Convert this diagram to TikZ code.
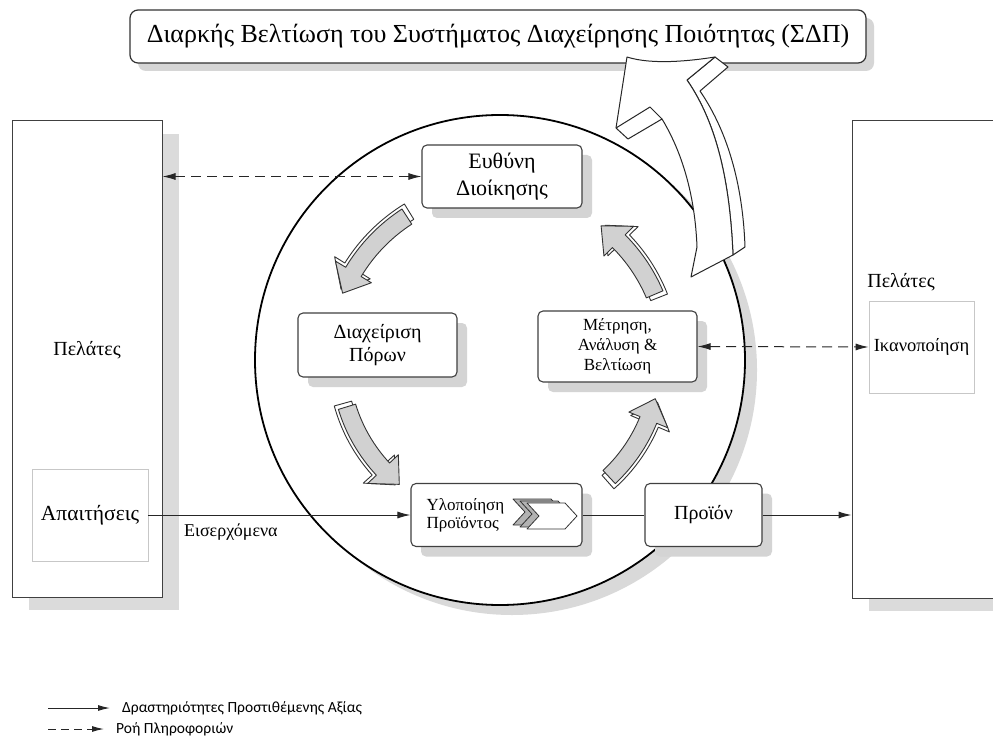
\documentclass[tikz,border=0pt]{standalone}
\usepackage{fontspec}
\setmainfont{Liberation Serif}
\newfontfamily\legendfont{Carlito}
\usetikzlibrary{arrows.meta,shadows}
\tikzset{
  procbox/.style={draw=black!75, line width=1.1pt, rounded corners=5pt, fill=white, align=center, inner sep=0pt,
    font=\fontsize{20}{23}\selectfont,
    drop shadow={shadow xshift=10pt, shadow yshift=-10pt, fill=black!17, opacity=1}},
  custbox/.style={draw=black!75, line width=1pt, fill=white, inner sep=0pt,
    drop shadow={shadow xshift=17pt, shadow yshift=-13pt, fill=black!14, opacity=1}},
  innerbox/.style={draw=black!22, line width=0.8pt, fill=white, inner sep=0pt, font=\fontsize{20}{23}\selectfont},
  lbl/.style={font=\fontsize{20}{23}\selectfont, inner sep=0pt},
  flow/.style={line width=1pt, draw=black!85},
  infoflow/.style={line width=1pt, draw=black!85, dash pattern=on 10pt off 6pt},
  tipA/.style={-{Latex[length=13pt,width=7pt]}},
  tipAA/.style={{Latex[length=13pt,width=7pt]}-{Latex[length=13pt,width=7pt]}},
  legtip/.style={-{Latex[length=12pt,width=6pt]}},
  cyc/.style={draw=black!80, line width=0.9pt, fill=black!18, line join=round},
  cycback/.style={draw=black!80, line width=0.9pt, fill=white, line join=round},
  bigarrow/.style={draw=black!85, line width=1pt, fill=white, line join=round},
  legtext/.style={anchor=west, inner sep=0pt, font=\legendfont\fontsize{15.5}{17}\selectfont},
}
% #1 tail angle, #2 tip angle, #3 radius, #4 style
\newcommand\cyclearc[4]{%
  \path[#4] ({#1}:{#3+9}) arc[start angle={#1}, end angle={#2-8}, radius={#3+9}]
    -- ({#2-8}:{#3+21}) -- ({#2}:{#3}) -- ({#2-8}:{#3-21}) -- ({#2-8}:{#3-9})
    arc[start angle={#2-8}, end angle={#1}, radius={#3-9}] -- cycle;}
\begin{document}
\begin{tikzpicture}[x=1pt,y=1pt]
\useasboundingbox (0,0) rectangle (993,-738);
\fill[white] (0,0) rectangle (993,-738);
\clip (0,0) rectangle (993,-738);

% title
\node[draw=black!80, line width=1.2pt, rounded corners=8pt, fill=white, minimum width=736, minimum height=53,
  inner sep=0pt, font=\fontsize{26}{29}\selectfont,
  drop shadow={shadow xshift=8pt, shadow yshift=-8pt, fill=black!16, opacity=1}]
  (title) at (498,-36.5) {Διαρκής Βελτίωση του Συστήματος Διαχείρησης Ποιότητας (ΣΔΠ)};

% circle
\coordinate (cc) at (500,-360);
\fill[black!15] ([shift={(12,-10)}]cc) circle[radius=245];
\draw[line width=1.8pt, fill=white] (cc) circle[radius=245];

% customer boxes
\node[custbox, minimum width=150, minimum height=476] (custL) at (87,-359) {};
\node[custbox, minimum width=158, minimum height=477] (custR) at (931,-359.5) {};
\node[lbl] (custLlbl) at (87,-350) {Πελάτες};
\node[lbl] (custRlbl) at (901,-282) {Πελάτες};
\node[innerbox, minimum width=116, minimum height=92, font=\fontsize{21.5}{24}\selectfont] (req) at (90,-515) {Απαιτήσεις};
\node[innerbox, minimum width=105, minimum height=92, font=\fontsize{18.5}{21}\selectfont] (sat) at (921.5,-347) {Ικανοποίηση};

% cycle arrows
\begin{scope}[shift={(cc)}]
  \cyclearc{121.5}{156}{174}{cycback}
  \cyclearc{123}{157}{171}{cyc}
  \cyclearc{195.5}{230}{163}{cycback}
  \cyclearc{197}{231}{160}{cyc}
  \cyclearc{311.5}{345}{163}{cycback}
  \cyclearc{313}{346}{160}{cyc}
  \cyclearc{21.5}{52}{171}{cycback}
  \cyclearc{23}{53}{168}{cyc}
\end{scope}

% process boxes
\node[procbox, minimum width=160, minimum height=63, font=\fontsize{22}{27}\selectfont] (mgmt) at (502,-176.5) {Ευθύνη\\Διοίκησης};
\node[procbox, minimum width=159, minimum height=64] (res) at (377.5,-345) {Διαχείριση\\Πόρων};
\node[procbox, minimum width=159, minimum height=71, font=\fontsize{17}{20}\selectfont] (meas) at (617.5,-346.5) {Μέτρηση,\\Ανάλυση \&\\Βελτίωση};
\node[procbox, minimum width=171, minimum height=63] (impl) at (496.5,-515) {};
\node[procbox, minimum width=117, minimum height=63] (prod) at (703.5,-515) {Προϊόν};
\node[anchor=west, font=\fontsize{17}{18}\selectfont, align=left, inner sep=0pt] (impltxt)
  at ([xshift=16]impl.west) {Υλοποίηση\\Προϊόντος};
\foreach \dx/\dy/\col in {-14/4/black!30, -7/2/black!30, 0/0/white}
  \draw[black!80, line width=0.8pt, fill=\col, line join=round, shift={(\dx,\dy)}]
    (527,-503) -- (565,-503) -- (577,-516) -- (565,-529) -- (527,-529) -- (539,-516) -- cycle;

% big improvement arrow
\path[bigarrow] (715,-57) -- (728,-67) -- (700,-91) .. controls (730,-135) and (743,-190) .. (745,-247)
  -- (733,-255) .. controls (730,-185) and (718,-125) .. (687,-80) -- cycle;
\path[bigarrow] (627,-57) -- (616,-128) -- (628,-139) -- (662,-119)
  .. controls (682,-152) and (695,-195) .. (697,-247) -- (691,-277) -- (733,-255)
  .. controls (730,-185) and (718,-125) .. (687,-80) -- (715,-57)
  .. controls (690,-61) and (652,-65) .. (627,-57) -- cycle;
\draw[black!85, line width=1pt, line join=round] (616,-128) -- (650,-107) -- (662,-119);

% connectors
\draw[infoflow, tipAA] (mgmt.west) -- (mgmt.west -| custL.east);
\draw[infoflow, tipAA] (meas.east) -- (sat.west);
\draw[flow, tipA] (req.east) -- (impl.west);
\draw[flow] (impl.east) -- (prod.west);
\draw[flow, tipA] (prod.east) -- (prod.east -| custR.west);
\node[anchor=west, inner sep=0pt, font=\fontsize{18}{20}\selectfont] (inlbl) at (184,-532) {Εισερχόμενα};

% legend
\node[legtext] (leg1) at (122,-708) {Δραστηριότητες Προστιθέμενης Αξίας};
\node[legtext] (leg2) at (116,-729) {Ροή Πληροφοριών};
\coordinate (leg1s) at (48,-708);
\coordinate (leg2s) at (48,-729);
\draw[flow, legtip] (leg1s) -- ([xshift=-12]leg1.west);
\draw[flow, dash pattern=on 8pt off 5pt, legtip] (leg2s) -- ([xshift=-12]leg2.west);
\end{tikzpicture}
\end{document}
